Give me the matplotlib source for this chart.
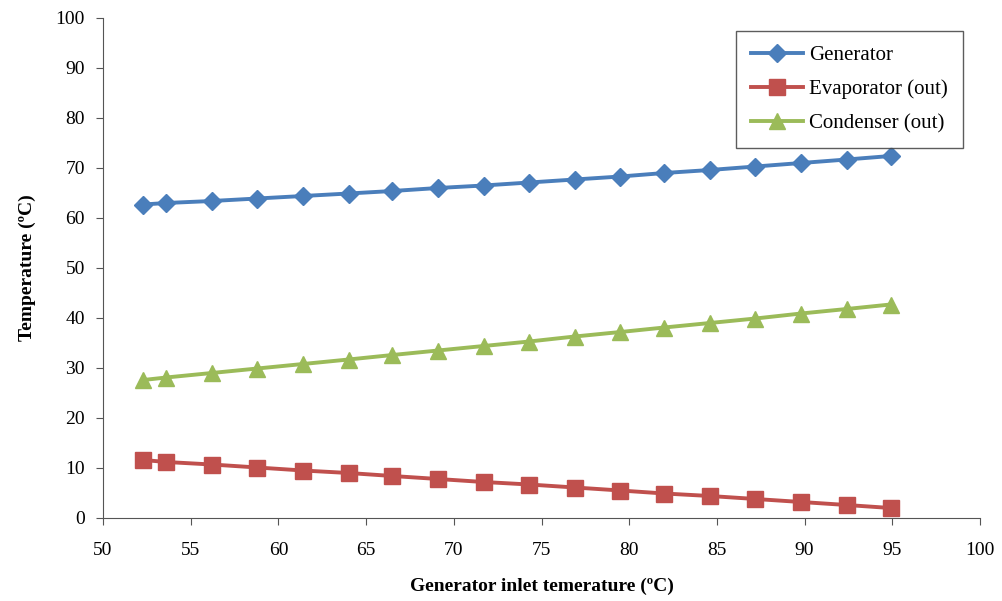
import matplotlib.pyplot as plt

plt.rcParams['font.family'] = ['Liberation Serif', 'DejaVu Serif']

# generator inlet temperature (C)
gen_inlet = [52.3, 53.6, 56.2, 58.8, 61.4, 64.0, 66.5, 69.1, 71.7, 74.3,
             76.9, 79.5, 82.0, 84.6, 87.2, 89.8, 92.4, 94.9]

generator = [62.7, 63.0, 63.4, 63.9, 64.4, 64.9, 65.4, 66.0, 66.5, 67.1,
             67.7, 68.3, 69.0, 69.6, 70.3, 71.0, 71.7, 72.4]
evaporator_out = [11.6, 11.2, 10.7, 10.1, 9.5, 9.0, 8.4, 7.8, 7.2, 6.7,
                  6.1, 5.5, 4.9, 4.4, 3.8, 3.2, 2.6, 2.0]
condenser_out = [27.6, 28.1, 29.0, 29.9, 30.8, 31.7, 32.6, 33.5, 34.4, 35.3,
                 36.3, 37.2, 38.1, 39.0, 39.9, 40.9, 41.8, 42.7]

fig = plt.figure(figsize=(10.03, 6.01), dpi=100)
ax = fig.add_axes([103/1003, 1 - 518/601, (980-103)/1003, (518-18)/601])

ax.plot(gen_inlet, generator, color='#4a7ebb', lw=2.8, marker='D', ms=9,
        label='Generator')
ax.plot(gen_inlet, evaporator_out, color='#c0504d', lw=2.8, marker='s', ms=11,
        label='Evaporator (out)')
ax.plot(gen_inlet, condenser_out, color='#9bbb59', lw=2.8, marker='^', ms=11,
        label='Condenser (out)')

ax.set_xlim(50, 100)
ax.set_ylim(0, 100)
ax.set_xticks(range(50, 101, 5))
ax.set_yticks(range(0, 101, 10))
ax.tick_params(direction='out', length=5, labelsize=14, color='#555555')
ax.tick_params(axis='x', pad=12)
ax.tick_params(axis='y', pad=8)
ax.spines['top'].set_visible(False)
ax.spines['right'].set_visible(False)
for s in ['left', 'bottom']:
    ax.spines[s].set_color('#555555')

ax.set_xlabel('Generator inlet temerature (ºC)', fontsize=14, fontweight='bold',
              labelpad=14)
ax.set_ylabel('Temperature (ºC)', fontsize=14, fontweight='bold', labelpad=14)

leg = ax.legend(loc='upper right', bbox_to_anchor=(0.992, 0.995), fontsize=15,
                fancybox=False, edgecolor='#333333', handlelength=2.5,
                handletextpad=0.3, borderpad=0.7, labelspacing=0.7)
leg.get_frame().set_linewidth(1)

fig.savefig('out.png', dpi=100)
